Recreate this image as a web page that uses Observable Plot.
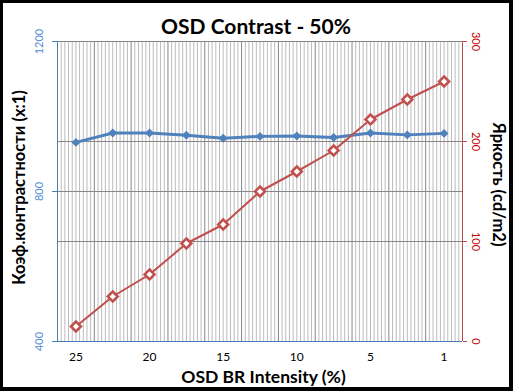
<!DOCTYPE html>
<html>
<head>
<meta charset="utf-8">
<script src="https://cdn.jsdelivr.net/npm/d3@7"></script>
<script src="https://cdn.jsdelivr.net/npm/@observablehq/plot@0.6"></script>
<style>
  body { margin: 0; background: #fff; }
  #wrap { position: relative; width: 513px; height: 391px; overflow: hidden; }
  #wrap svg { position: absolute; left: 0; top: 0; }
  #border { position: absolute; left: 0; top: 0; width: 513px; height: 391px; box-sizing: border-box; border: 3px solid #000; border-right-width: 4px; border-bottom-width: 4px; pointer-events: none; }
</style>
</head>
<body>
<div id="wrap"><div id="border"></div></div>
<script>
const categories = ["25", "22.5", "20", "17.5", "15", "12.5", "10", "7.5", "5", "2.5", "1"];
const contrast = [931, 956, 956, 950, 942, 947, 948, 944, 956, 951, 955];
const brightness = [15, 45, 67, 98, 117, 150, 170, 191, 222, 242, 260];
const leftTicks = [400, 800, 1200];
const rightTicks = [0, 100, 200, 300];
const shownLabels = ["25", "20", "15", "10", "5", "1"];

const title = "OSD Contrast - 50%";
const leftTitle = "Коэф.контрастности (x:1)";
const rightTitle = "Яркость (cd/m2)";
const xTitle = "OSD BR Intensity (%)";

const toLeft = v => 400 + v * 800 / 300;
const rows = categories.map((c, i) => ({i, c, contrast: contrast[i], bright: brightness[i]}));
const n = categories.length;
const minor = d3.range(0, n * 10).filter(k => k % 10 !== 0).map(k => -0.5 + k / 10);
const bounds = d3.range(1, n).map(k => k - 0.5);
const gridY = [...leftTicks, ...rightTicks.map(toLeft)];

const blue = "#4f81bd", red = "#c0504d";
const center = {textAnchor: "middle", lineAnchor: "middle"};

const chart = Plot.plot({
  width: 513, height: 391,
  marginLeft: 57, marginRight: 51, marginTop: 41, marginBottom: 50,
  x: {domain: [-0.5, n - 0.5], axis: null},
  y: {domain: [400, 1200], axis: null},
  style: {fontFamily: "Lato, 'Open Sans', sans-serif", background: "transparent", overflow: "visible"},
  marks: [
    Plot.ruleX(minor, {stroke: "#bcbcbc", strokeWidth: 1}),
    Plot.ruleY(gridY, {stroke: "#878787", strokeWidth: 1}),
    Plot.ruleX(bounds, {stroke: "#878787", strokeWidth: 1}),
    Plot.ruleX([-0.5], {stroke: "#4a7ebb", strokeWidth: 1}),
    Plot.ruleX([n - 0.5], {stroke: "#be4b48", strokeWidth: 1}),
    Plot.ruleY([400], {stroke: "#4a7ebb", strokeWidth: 1}),
    Plot.axisY({ticks: leftTicks, anchor: "left", tickSize: 5, tickFormat: () => "", stroke: "#4a7ebb", label: null}),
    Plot.axisY({ticks: rightTicks.map(toLeft), anchor: "right", tickSize: 4, tickFormat: () => "", stroke: "#be4b48", label: null}),
    Plot.text(leftTicks, {x: () => -0.5, y: d => d, text: d => String(d), dx: -18, rotate: -90, fill: "#558ed5", fontSize: 11, ...center}),
    Plot.text(rightTicks, {x: () => n - 0.5, y: d => toLeft(d), text: d => String(d), dx: 13, rotate: 90, fill: "#c00000", fontSize: 11, ...center}),
    Plot.text(rows.filter(d => shownLabels.includes(d.c)), {x: "i", y: () => 400, text: "c", dy: 16, fontSize: 12, fill: "#000", ...center}),
    Plot.line(rows, {x: "i", y: "contrast", stroke: blue, strokeWidth: 3}),
    Plot.dot(rows, {x: "i", y: "contrast", symbol: "diamond2", r: 4, fill: blue}),
    Plot.line(rows, {x: "i", y: d => toLeft(d.bright), stroke: red, strokeWidth: 2}),
    Plot.dot(rows, {x: "i", y: d => toLeft(d.bright), symbol: "diamond2", r: 4.5, fill: "white", stroke: red, strokeWidth: 2.5}),
    Plot.text([title], {frameAnchor: "top", dx: -4, dy: -14, fontSize: 21, fontWeight: "bold", fill: "#000", ...center}),
    Plot.text([leftTitle], {frameAnchor: "left", dx: -37.5, dy: -4, rotate: -90, fontSize: 16.5, fontWeight: "bold", fill: "#000", ...center}),
    Plot.text([rightTitle], {frameAnchor: "right", dx: 36, dy: -7, rotate: 90, fontSize: 16.5, fontWeight: "bold", fill: "#000", ...center}),
    Plot.text([xTitle], {frameAnchor: "bottom", dx: 3.5, dy: 36, fontSize: 17.5, fontWeight: "bold", fill: "#000", ...center})
  ]
});
document.getElementById("wrap").prepend(chart);
</script>
</body>
</html>
